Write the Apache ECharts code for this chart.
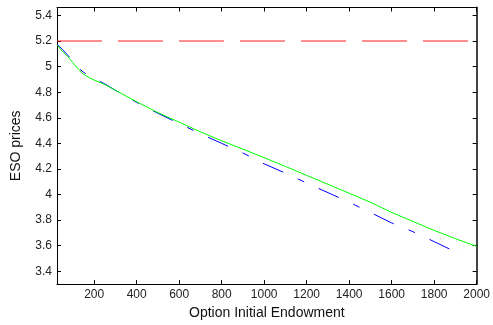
<!DOCTYPE html>
<html>
<head>
<meta charset="utf-8">
<script src="https://cdn.jsdelivr.net/npm/echarts@6/dist/echarts.min.js"></script>
<style>
html,body{margin:0;padding:0;background:#fff;}
#chart{width:493px;height:325px;}
</style>
</head>
<body>
<div id="chart"></div>
<script>
// ---- data ----
var endowment = [25, 50, 75, 100, 125, 150, 175, 200, 250, 300, 400, 500, 600, 700, 800, 900, 1000, 1100, 1200, 1300, 1400, 1500, 1600, 1700, 1800, 1900, 2000];
var greenPrices = [5.17, 5.12, 5.08, 5.03, 4.98, 4.94, 4.915, 4.895, 4.86, 4.815, 4.725, 4.64, 4.566, 4.49, 4.42, 4.355, 4.288, 4.22, 4.15, 4.08, 4.01, 3.94, 3.86, 3.79, 3.72, 3.655, 3.595];
var blueEndowment = [25, 50, 75, 100, 125, 150, 175, 200, 250, 300, 400, 500, 600, 700, 800, 900, 1000, 1100, 1200, 1300, 1400, 1500, 1600, 1700, 1800, 1900, 1940];
var bluePrices = [5.175, 5.135, 5.09, 5.045, 4.99, 4.955, 4.93, 4.905, 4.865, 4.815, 4.72, 4.635, 4.555, 4.475, 4.40, 4.325, 4.24, 4.167, 4.09, 4.015, 3.94, 3.86, 3.778, 3.71, 3.632, 3.552, 3.523];
var redEndowment = [25, 2000];
var redPrices = [5.2, 5.2];
var xTicks = [200, 400, 600, 800, 1000, 1200, 1400, 1600, 1800, 2000];
var yTicks = [3.4, 3.6, 3.8, 4, 4.2, 4.4, 4.6, 4.8, 5, 5.2, 5.4];
var xName = 'Option Initial Endowment';
var yName = 'ESO prices';

function pairs(xs, ys) { return xs.map(function (x, i) { return [x, ys[i]]; }); }

var FONT = 'Liberation Sans, Arial, Helvetica, sans-serif';
var chart = echarts.init(document.getElementById('chart'), null, {renderer: 'canvas'});

var xMin = 25, xMax = 2000, yMin = 3.3, yMax = 5.462;

chart.setOption({
  animation: false,
  backgroundColor: '#fff',
  grid: {left: 57, right: 14.5, top: 7.5, bottom: 37, containLabel: false},
  xAxis: [{
    type: 'value', min: xMin, max: xMax, position: 'bottom',
    name: xName, nameLocation: 'middle', nameGap: 19,
    nameTextStyle: {fontFamily: FONT, fontSize: 14, color: '#111'},
    axisLine: {show: true, lineStyle: {color: '#000', width: 1}},
    axisTick: {show: true, inside: true, length: 4, customValues: xTicks, lineStyle: {color: '#000'}},
    axisLabel: {show: true, customValues: xTicks, margin: 5, fontFamily: FONT, fontSize: 12, color: '#222',
      formatter: function (v) { return String(v); }},
    splitLine: {show: false}
  }, {
    type: 'value', min: xMin, max: xMax, position: 'top',
    axisLine: {show: true, lineStyle: {color: '#000', width: 1}},
    axisTick: {show: true, inside: true, length: 4, customValues: xTicks, lineStyle: {color: '#000'}},
    axisLabel: {show: false},
    splitLine: {show: false}
  }],
  yAxis: [{
    type: 'value', min: yMin, max: yMax, position: 'left',
    name: yName, nameLocation: 'middle', nameGap: 34, nameRotate: 90,
    nameTextStyle: {fontFamily: FONT, fontSize: 14, color: '#111'},
    axisLine: {show: true, lineStyle: {color: '#000', width: 1}},
    axisTick: {show: true, inside: true, length: 4, customValues: yTicks, lineStyle: {color: '#000'}},
    axisLabel: {show: true, customValues: yTicks, margin: 5, fontFamily: FONT, fontSize: 12, color: '#222',
      formatter: function (v) { return String(Math.round(v * 10) / 10); }},
    splitLine: {show: false}
  }, {
    type: 'value', min: yMin, max: yMax, position: 'right',
    axisLine: {show: true, lineStyle: {color: '#444', width: 2}},
    axisTick: {show: true, inside: true, length: 4, customValues: yTicks, lineStyle: {color: '#000'}},
    axisLabel: {show: false},
    splitLine: {show: false}
  }],
  series: [{
    type: 'line', data: pairs(blueEndowment, bluePrices), showSymbol: false, symbol: 'none',
    lineStyle: {color: '#0000ff', width: 1, type: [22, 16, 7, 16], dashOffset: 3.8}
  }, {
    type: 'line', data: pairs(endowment, greenPrices), showSymbol: false, symbol: 'none',
    lineStyle: {color: '#00ff00', width: 1, type: 'solid'}
  }, {
    type: 'line', data: pairs(redEndowment, redPrices), showSymbol: false, symbol: 'none',
    lineStyle: {color: '#ff2020', width: 1.2, type: [45, 16]}
  }]
});
</script>
</body>
</html>
